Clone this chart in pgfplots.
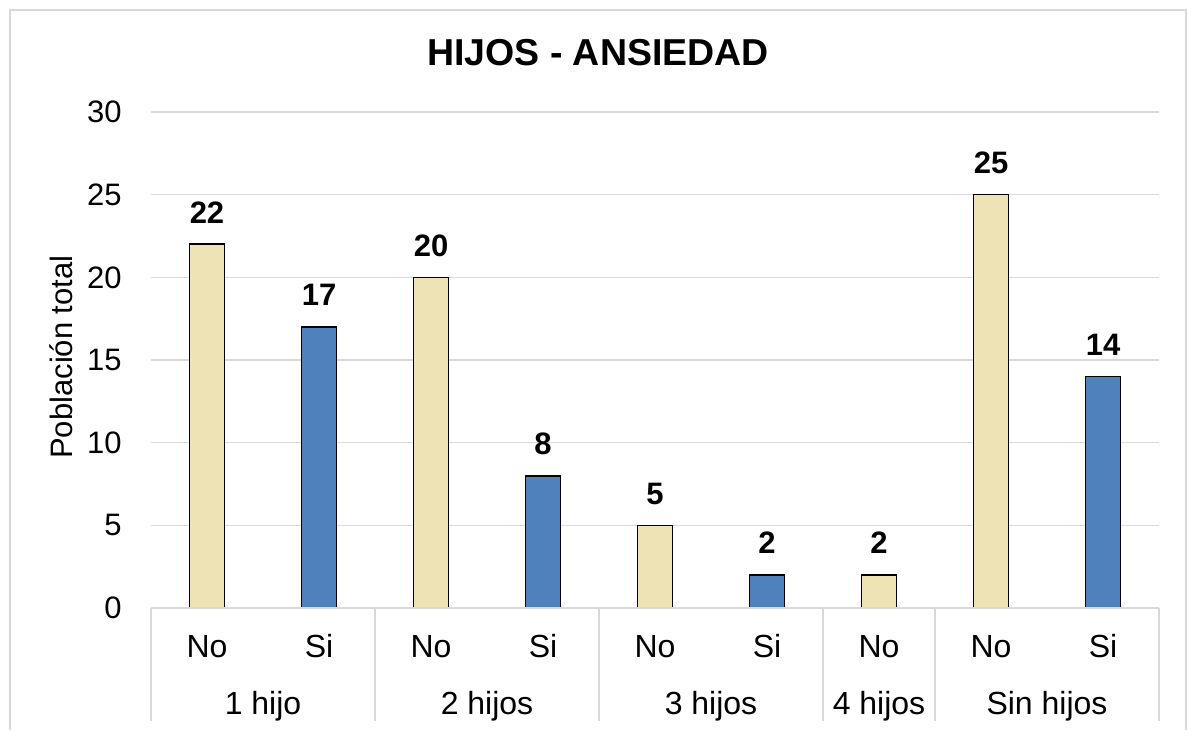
\documentclass[border=0pt]{standalone}
\usepackage{fontspec}
\setmainfont{Liberation Sans}
\usepackage{pgfplots}
\pgfplotsset{compat=1.18}
\definecolor{beige}{HTML}{EEE3B4}
\definecolor{barblue}{HTML}{4F81BD}
\definecolor{gridgray}{HTML}{D9D9D9}
\begin{document}
\begin{tikzpicture}
\useasboundingbox (0,0) rectangle (593.5pt,365pt);
\draw[gridgray, line width=0.75pt] (5pt,0) -- (5pt,360pt) -- (593pt,360pt) -- (593pt,0);
\begin{axis}[
  at={(75.5pt,61pt)}, anchor=south west,
  scale only axis, width=504pt, height=248pt,
  xmin=-0.5, xmax=8.5, ymin=0, ymax=30,
  ytick={0,5,...,30},
  xtick={0,...,8},
  xticklabels={No,Si,No,Si,No,Si,No,No,Si},
  axis line style={draw=none},
  tick style={draw=none},
  major tick length=0pt,
  ymajorgrids, grid style={gridgray, line width=0.75pt},
  ybar, bar width=0.3125, bar shift=0pt,
  clip=false,
  /pgf/number format/assume math mode=true,
  yticklabel style={font=\fontsize{15.5}{18}\selectfont, anchor=east, inner sep=0pt, xshift=-14.5pt},
  xticklabel style={font=\fontsize{16}{19}\selectfont, anchor=base, inner sep=0pt, yshift=-24.5pt},
  ylabel={Población total},
  ylabel style={font=\fontsize{15.5}{18}\selectfont, at={(axis description cs:-0.0893,0.506)}, anchor=center, inner sep=0pt},
  nodes near coords,
  every node near coord/.append style={font=\fontsize{15.5}{18}\selectfont\bfseries, anchor=base, inner sep=0pt, yshift=10.5pt},
]
\addplot[fill=beige, draw=black, line width=0.8pt] coordinates {(0,22) (2,20) (4,5) (6,2) (7,25)};
\addplot[fill=barblue, draw=black, line width=0.8pt] coordinates {(1,17) (3,8) (5,2) (8,14)};
\draw[gridgray, line width=0.75pt] (axis cs:-0.5,0) -- (axis cs:8.5,0);
\pgfplotsinvokeforeach{-0.5,1.5,3.5,5.5,6.5,8.5}{
  \draw[gridgray, line width=0.75pt] (axis cs:#1,0) -- ([yshift=-56.5pt]axis cs:#1,0);
}
\node[font=\fontsize{16}{19}\selectfont, anchor=base, yshift=-53pt] at (axis cs:0.5,0) {1 hijo};
\node[font=\fontsize{16}{19}\selectfont, anchor=base, yshift=-53pt] at (axis cs:2.5,0) {2 hijos};
\node[font=\fontsize{16}{19}\selectfont, anchor=base, yshift=-53pt] at (axis cs:4.5,0) {3 hijos};
\node[font=\fontsize{16}{19}\selectfont, anchor=base, yshift=-53pt] at (axis cs:6,0) {4 hijos};
\node[font=\fontsize{16}{19}\selectfont, anchor=base, yshift=-53pt] at (axis cs:7.5,0) {Sin hijos};
\end{axis}
\node[font=\fontsize{18.75}{22}\selectfont\bfseries] at (299pt,338.5pt) {HIJOS - ANSIEDAD};
\end{tikzpicture}
\end{document}
